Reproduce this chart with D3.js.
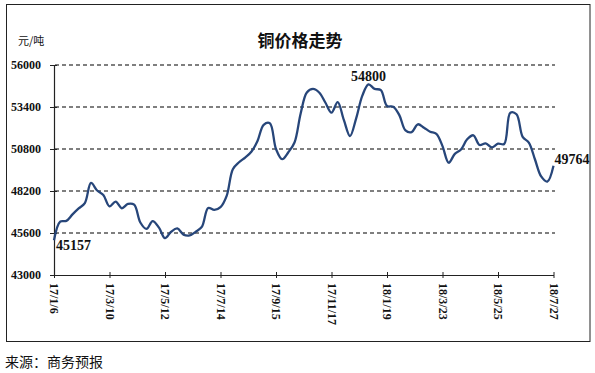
<!DOCTYPE html>
<html><head><meta charset="utf-8">
<script src="https://cdn.jsdelivr.net/npm/d3@7/dist/d3.min.js"></script>
<style>body{margin:0;background:#fff}svg{display:block}</style>
</head><body>
<script>
const startDate = "2017-01-06";
const prices = [45157,46300,46350,46750,47120,47450,48700,48230,47950,47250,
47540,47130,47400,47350,46250,45850,46340,45950,45280,45680,
45880,45500,45450,45680,46000,47150,47030,47200,47900,49550,
49980,50270,50630,51300,52300,52400,50800,50170,50600,51200,
53000,54300,54520,54300,53680,53050,53700,52600,51600,52700,
54100,54800,54520,54450,53460,53420,52900,51950,51850,52330,
52120,51870,51740,50980,49950,50500,50770,51400,51650,51050,
51150,50900,51130,51110,53050,52950,51550,51200,50150,49100,
48780,49764];
const yTicks = [43000,45600,48200,50800,53400,56000];
const xTickLabels = ["17/1/6","17/3/10","17/5/12","17/7/14","17/9/15","17/11/17","18/1/19","18/3/23","18/5/25","18/7/27"];
const annotations = [{i:0,text:"45157"},{i:51,text:"54800"},{i:81,text:"49764"}];
const title = "铜价格走势";
const unit = "元/吨";
const source = "来源：商务预报";

const W=595,H=373;
const svg=d3.select("body").append("svg").attr("width",W).attr("height",H);
const serif="'Liberation Serif','Times New Roman',serif";
const cjk="'Noto Sans CJK SC',sans-serif";

svg.append("rect").attr("x",6.5).attr("y",4.5).attr("width",583.5).attr("height",337)
  .attr("fill","none").attr("stroke","#222").attr("stroke-width",1);

const t0=d3.timeParse("%Y-%m-%d")(startDate);
const dates=prices.map((d,i)=>d3.timeDay.offset(t0,7*i));
const x=d3.scaleTime().domain([dates[0],dates[dates.length-1]]).range([54,553.5]);
const y=d3.scaleLinear().domain([43000,56000]).range([275,65]);

// gridlines
svg.append("g").selectAll("line").data(yTicks.filter(v=>v>43000)).join("line")
  .attr("x1",55).attr("x2",555).attr("y1",d=>y(d)).attr("y2",d=>y(d))
  .attr("stroke","#555").attr("stroke-width",1.3).attr("stroke-dasharray","4,3");

// y axis
const ya=svg.append("g").attr("transform","translate(54,0)")
  .call(d3.axisLeft(y).tickValues(yTicks).tickFormat(d3.format("d")).tickSizeInner(4).tickSizeOuter(0).tickPadding(8));
ya.select(".domain").attr("stroke","#222").attr("stroke-width",1.2);
ya.selectAll(".tick line").attr("stroke","#222").attr("x2",3).attr("x1",-4);
ya.selectAll("text").attr("font-family",serif).attr("font-weight","bold").attr("font-size",12).attr("fill","#111").attr("dx",-1);

// x axis
const tickDates=xTickLabels.map((l,i)=>d3.timeDay.offset(t0,63*i));
const xa=svg.append("g").attr("transform","translate(0,275)")
  .call(d3.axisBottom(x).tickValues(tickDates).tickFormat((d,i)=>xTickLabels[i]).tickSizeInner(3).tickSizeOuter(0));
xa.select(".domain").attr("stroke","#222").attr("stroke-width",1.2);
xa.selectAll(".tick line").attr("stroke","#222").attr("y1",-3).attr("y2",3);
xa.selectAll("text").attr("font-family",serif).attr("font-weight","bold").attr("font-size",12).attr("fill","#111")
  .attr("text-anchor","start").attr("y",0).attr("dy","0.35em").attr("transform","translate(0,8) rotate(90)");

// line
const line=d3.line().x((d,i)=>x(dates[i])).y(d=>y(d)).curve(d3.curveCatmullRom.alpha(0.5));
svg.append("path").datum(prices).attr("d",line).attr("fill","none")
  .attr("stroke","#27467a").attr("stroke-width",2.3).attr("stroke-linejoin","round");

// annotations
const annPos={0:{dx:2,dy:10,anchor:"start"},51:{dx:0,dy:-3,anchor:"middle"},81:{dx:1,dy:-2,anchor:"start"}};
annotations.forEach(a=>{
  const p=annPos[a.i];
  svg.append("text").attr("x",x(dates[a.i])+p.dx).attr("y",y(prices[a.i])+p.dy)
    .attr("text-anchor",p.anchor).attr("font-family",serif).attr("font-weight","bold").attr("font-size",14).attr("fill","#111")
    .text(a.text);
});

svg.append("text").attr("x",300).attr("y",47).attr("text-anchor","middle").attr("font-family",cjk)
  .attr("font-weight","bold").attr("font-size",17).attr("fill","#111").text(title);
svg.append("text").attr("x",18).attr("y",45).attr("font-family",cjk).attr("font-size",11).attr("fill","#111").text(unit);
svg.append("text").attr("x",5).attr("y",367).attr("font-family",cjk).attr("font-size",14).attr("fill","#111").text(source);
</script>
</body></html>
